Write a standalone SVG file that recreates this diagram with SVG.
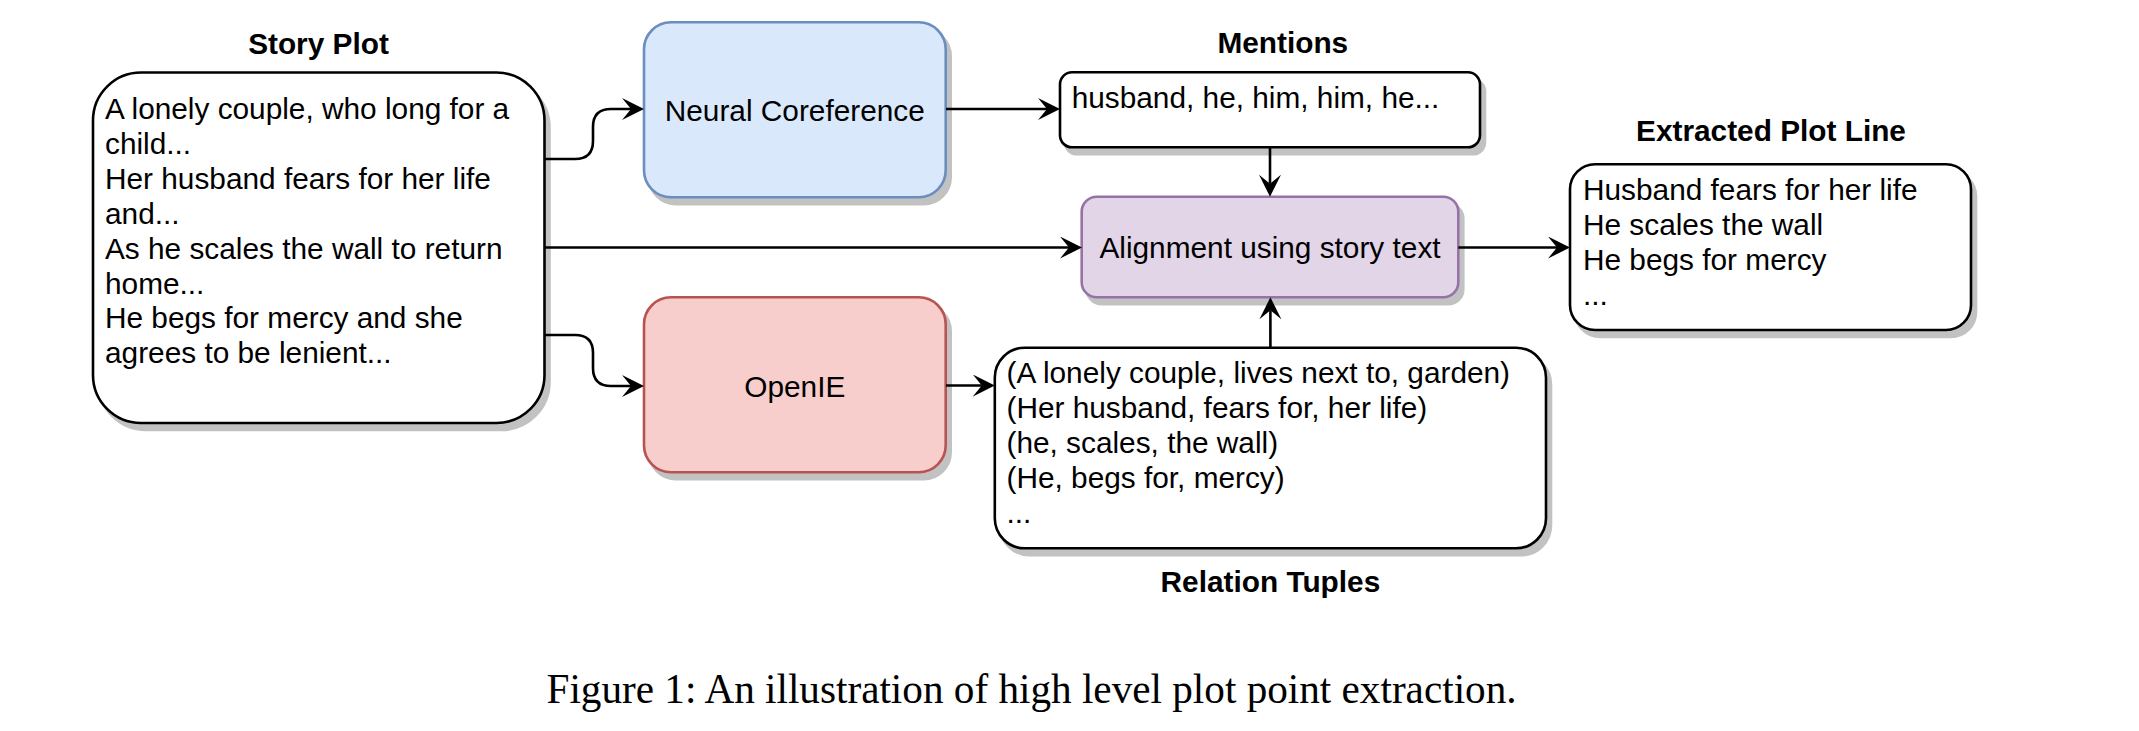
<svg xmlns="http://www.w3.org/2000/svg" width="2139" height="731" viewBox="0 0 2139 731">
<style>
.bg{fill:#ffffff}
.box{fill:#ffffff;stroke:#000000;stroke-width:2.6}
.shadow{fill:#c2c2c2;stroke:#c2c2c2;stroke-width:2.6}
.blue{fill:#dae8fc;stroke:#6c8ebf;stroke-width:2.6}
.red{fill:#f8cecc;stroke:#b85450;stroke-width:2.6}
.purple{fill:#e1d5e7;stroke:#9673a6;stroke-width:2.6}
.t{font-family:"Liberation Sans",Arial,sans-serif;font-size:29.8px;fill:#000000}
.title{font-family:"Liberation Sans",Arial,sans-serif;font-size:29.8px;font-weight:bold;fill:#000000;text-anchor:middle}
.mid{text-anchor:middle}
.edge{fill:none;stroke:#000000;stroke-width:2.6}
.cap{font-family:"Liberation Serif","Times New Roman",serif;font-size:41.2px;fill:#000000}
</style>
<defs>
<marker id="arrow" markerUnits="userSpaceOnUse" markerWidth="24" markerHeight="24" viewBox="0 0 24 24" refX="9" refY="11" orient="auto">
<path d="M22,11 L0,0 L9,11 L0,22 Z" fill="#000000"/>
</marker>
</defs>
<rect class="bg" x="0" y="0" width="2139" height="731"/>

<g id="story-plot">
<text class="title" x="318.5" y="54.3">Story Plot</text>
<rect class="shadow" x="98" y="79.5" width="451.5" height="350.5" rx="48" ry="48"/>
<rect class="box" x="93" y="72.5" width="451.5" height="350.5" rx="48" ry="48"/>
<text class="t" x="105" y="119">A lonely couple, who long for a</text>
<text class="t" x="105" y="153.9">child...</text>
<text class="t" x="105" y="188.8">Her husband fears for her life</text>
<text class="t" x="105" y="223.7">and...</text>
<text class="t" x="105" y="258.6">As he scales the wall to return</text>
<text class="t" x="105" y="293.5">home...</text>
<text class="t" x="105" y="328.4">He begs for mercy and she</text>
<text class="t" x="105" y="363.3">agrees to be lenient...</text>
</g>

<g id="neural-coreference">
<rect class="shadow" x="649" y="29.3" width="301.7" height="175" rx="27" ry="27"/>
<rect class="blue" x="644" y="22.3" width="301.7" height="175" rx="27" ry="27"/>
<text class="t mid" x="794.8" y="120.7">Neural Coreference</text>
</g>

<g id="openie">
<rect class="shadow" x="649" y="304.3" width="301.7" height="175" rx="27" ry="27"/>
<rect class="red" x="644" y="297.3" width="301.7" height="175" rx="27" ry="27"/>
<text class="t mid" x="794.8" y="396.7">OpenIE</text>
</g>

<g id="mentions">
<text class="title" x="1282.8" y="53.3">Mentions</text>
<rect class="shadow" x="1065" y="79.3" width="420" height="75" rx="12" ry="12"/>
<rect class="box" x="1060" y="72.3" width="420" height="75" rx="12" ry="12"/>
<text class="t" x="1071.7" y="108.3">husband, he, him, him, he...</text>
</g>

<g id="alignment">
<rect class="shadow" x="1086.7" y="203.7" width="376.6" height="100.6" rx="15" ry="15"/>
<rect class="purple" x="1081.7" y="196.7" width="376.6" height="100.6" rx="15" ry="15"/>
<text class="t mid" x="1270" y="258.3">Alignment using story text</text>
</g>

<g id="relation-tuples">
<rect class="shadow" x="999.8" y="354.7" width="551.2" height="200.6" rx="30" ry="30"/>
<rect class="box" x="994.8" y="347.7" width="551.2" height="200.6" rx="30" ry="30"/>
<text class="t" x="1006.5" y="383.3">(A lonely couple, lives next to, garden)</text>
<text class="t" x="1006.5" y="418.2">(Her husband, fears for, her life)</text>
<text class="t" x="1006.5" y="453.1">(he, scales, the wall)</text>
<text class="t" x="1006.5" y="488">(He, begs for, mercy)</text>
<text class="t" x="1006.5" y="522.9">...</text>
<text class="title" x="1270.4" y="591.7">Relation Tuples</text>
</g>

<g id="extracted-plot-line">
<text class="title" x="1771" y="140.7">Extracted Plot Line</text>
<rect class="shadow" x="1575" y="171.3" width="401" height="165.7" rx="25" ry="25"/>
<rect class="box" x="1570" y="164.3" width="401" height="165.7" rx="25" ry="25"/>
<text class="t" x="1583" y="200">Husband fears for her life</text>
<text class="t" x="1583" y="235">He scales the wall</text>
<text class="t" x="1583" y="270">He begs for mercy</text>
<text class="t" x="1583" y="304.5">...</text>
</g>

<g id="connectors">
<path class="edge" d="M545,159 H575 Q593,159 593,141 V127 Q593,109 611,109 H631" marker-end="url(#arrow)"/>
<path class="edge" d="M545,247.5 H1069" marker-end="url(#arrow)"/>
<path class="edge" d="M545,335 H575 Q593,335 593,353 V368 Q593,386 611,386 H631" marker-end="url(#arrow)"/>
<path class="edge" d="M946,109 H1047" marker-end="url(#arrow)"/>
<path class="edge" d="M1270,147.5 V183.7" marker-end="url(#arrow)"/>
<path class="edge" d="M1270.4,348 V310.3" marker-end="url(#arrow)"/>
<path class="edge" d="M1458.3,247.5 H1557" marker-end="url(#arrow)"/>
<path class="edge" d="M946,385.5 H981.8" marker-end="url(#arrow)"/>
</g>

<text id="caption" class="cap" x="546.5" y="703.3">Figure 1: An illustration of high level plot point extraction.</text>
</svg>
